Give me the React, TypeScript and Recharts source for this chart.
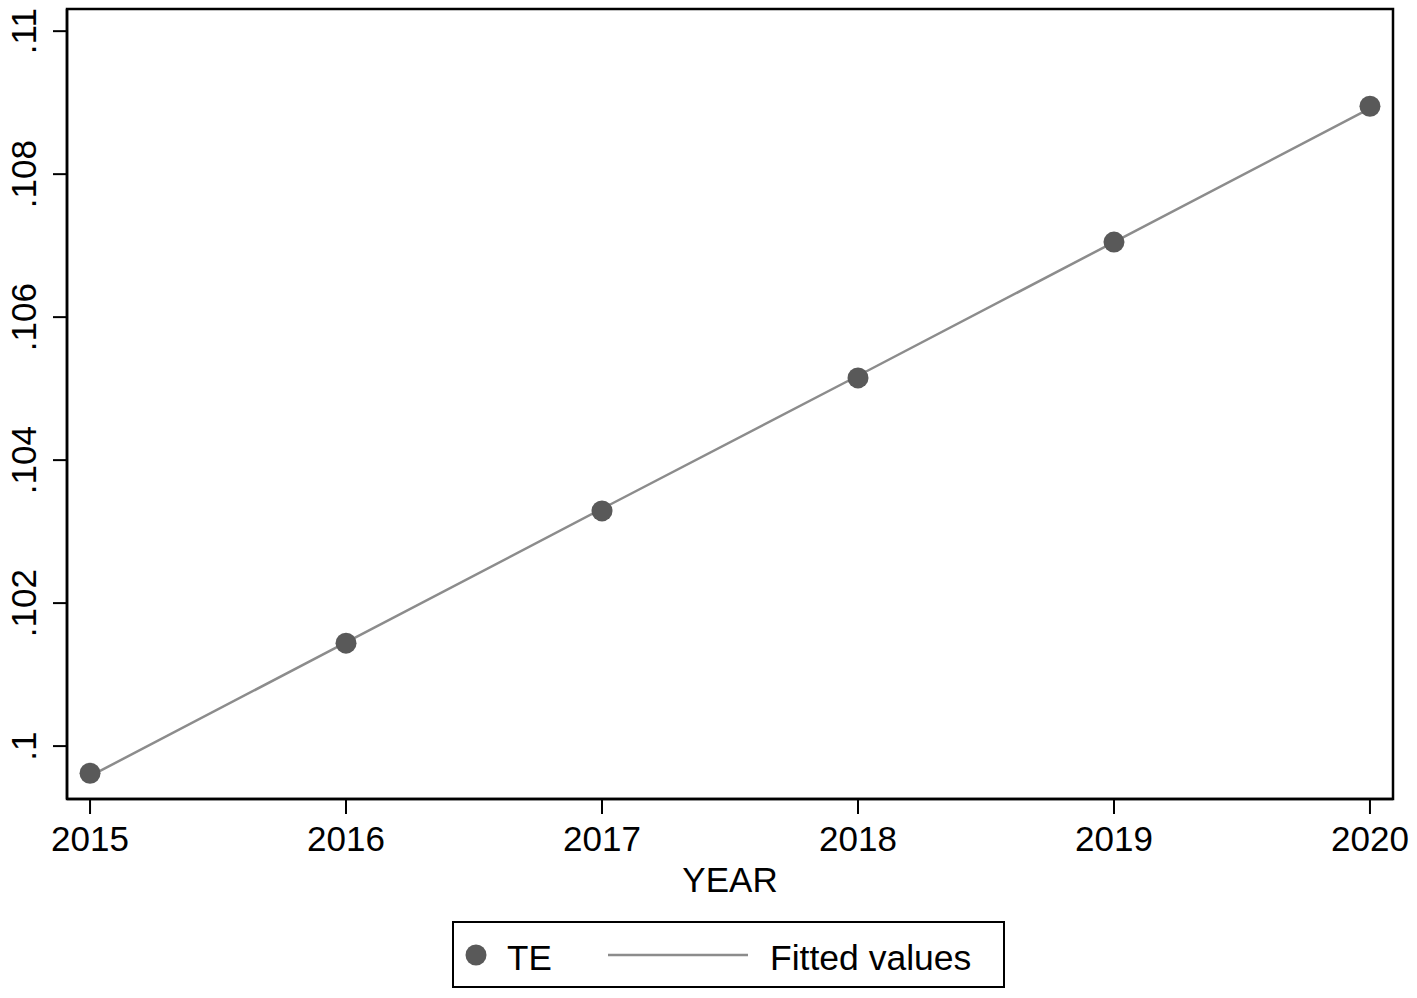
import React from 'react';
import { ComposedChart, Scatter, Line, XAxis, YAxis, ReferenceArea, Label } from 'recharts';

const years = [2015, 2016, 2017, 2018, 2019, 2020];
const teValues = [0.09962, 0.10144, 0.10329, 0.10515, 0.10705, 0.10895];
const fittedValues = [0.09958, 0.10145, 0.10332, 0.10518, 0.10705, 0.10892];
const yTicks = [0.1, 0.102, 0.104, 0.106, 0.108, 0.11];
const xTicks = [2015, 2016, 2017, 2018, 2019, 2020];

const data = years.map((year, i) => ({ year, te: teValues[i], fit: fittedValues[i] }));

const X_DOMAIN: [number, number] = [2014.91, 2020.09];
const Y_DOMAIN: [number, number] = [0.09926, 0.11031];

const FONT = '"Liberation Sans", Arial, Helvetica, sans-serif';
const DOT = '#595959';
const LINE = '#8c8c8c';

// stata style: .1, .102 ... no leading zero
const fmtY = (v: number) => {
  const s = String(Number(v.toFixed(3)));
  return s.startsWith('0') ? s.slice(1) : s;
};

const YTick = (props: any) => {
  const { y, payload } = props;
  return (
    <text
      transform={`translate(36, ${y}) rotate(-90)`}
      textAnchor="middle"
      fontFamily={FONT}
      fontSize={35}
      fill="#000"
    >
      {fmtY(payload.value)}
    </text>
  );
};

const XTick = (props: any) => {
  const { x, payload } = props;
  return (
    <text x={x} y={851} textAnchor="middle" fontFamily={FONT} fontSize={35} fill="#000">
      {payload.value}
    </text>
  );
};

const Dot = (props: any) => {
  const { cx, cy } = props;
  return <circle cx={cx} cy={cy} r={10.5} fill={DOT} />;
};

const LegendBox = () => (
  <div
    style={{
      position: 'absolute',
      left: 452,
      top: 921,
      width: 553,
      height: 67,
      border: '2px solid #000',
      boxSizing: 'border-box',
      background: '#fff',
    }}
  >
    <svg width={553} height={67} style={{ position: 'absolute', left: -2, top: -2 }}>
      <circle cx={24} cy={34} r={10.5} fill={DOT} />
      <text x={55} y={49} fontFamily={FONT} fontSize={35} fill="#000">TE</text>
      <line x1={156} y1={34} x2={296} y2={34} stroke={LINE} strokeWidth={2.5} />
      <text x={318} y={49} fontFamily={FONT} fontSize={35.5} fill="#000">Fitted values</text>
    </svg>
  </div>
);

export default function App() {
  return (
    <div style={{ position: 'absolute', left: 0, top: 0, width: 1417, height: 998, background: '#fff' }}>
      <ComposedChart
        width={1417}
        height={998}
        data={data}
        margin={{ top: 9, right: 24, bottom: 0, left: 0 }}
      >
        <XAxis
          dataKey="year"
          type="number"
          domain={X_DOMAIN}
          ticks={xTicks}
          allowDataOverflow
          height={199}
          tickSize={15}
          tickLine={{ stroke: '#000', strokeWidth: 2 }}
          axisLine={{ stroke: '#000', strokeWidth: 2.5 }}
          tick={<XTick />}
        >
          <Label
            content={(p: any) => {
              const vb = p.viewBox || { x: 67, width: 1326, y: 799 };
              return (
                <text
                  x={vb.x + vb.width / 2}
                  y={vb.y + 93}
                  textAnchor="middle"
                  fontFamily={FONT}
                  fontSize={35}
                  fill="#000"
                >
                  YEAR
                </text>
              );
            }}
          />
        </XAxis>
        <YAxis
          type="number"
          domain={Y_DOMAIN}
          ticks={yTicks}
          allowDataOverflow
          width={67}
          tickSize={14}
          tickLine={{ stroke: '#000', strokeWidth: 2 }}
          axisLine={{ stroke: '#000', strokeWidth: 2.5 }}
          tick={<YTick />}
        />
        <ReferenceArea
          x1={X_DOMAIN[0]}
          x2={X_DOMAIN[1]}
          y1={Y_DOMAIN[0]}
          y2={Y_DOMAIN[1]}
          fill="none"
          stroke="#000"
          strokeWidth={2.5}
          ifOverflow="visible"
        />
        <Scatter dataKey="te" shape={<Dot />} isAnimationActive={false} />
        <Line
          dataKey="fit"
          type="linear"
          stroke={LINE}
          strokeWidth={2.5}
          dot={false}
          activeDot={false}
          isAnimationActive={false}
        />
      </ComposedChart>
      <LegendBox />
    </div>
  );
}
